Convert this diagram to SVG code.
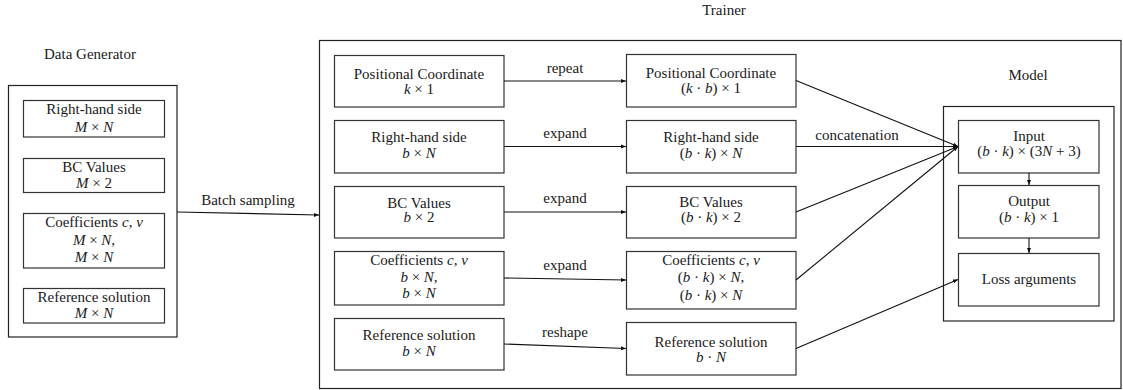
<svg xmlns="http://www.w3.org/2000/svg" width="1123" height="390" viewBox="0 0 1123 390" font-family="'Liberation Serif', 'DejaVu Serif', serif">
  <style>
    text { font-family: 'Liberation Serif', 'DejaVu Serif', serif; font-size: 15px; fill: #1a1a1a; text-anchor: middle; }
    .m { font-style: italic; }
    .box { fill: #ffffff; stroke: #333333; stroke-width: 1.2; }
    .frame { fill: none; stroke: #222222; stroke-width: 1.2; }
    .edge { fill: none; stroke: #111111; stroke-width: 1.1; marker-end: url(#tip); }
  </style>
  <defs>
    <marker id="tip" viewBox="0 0 6 6" refX="6" refY="3" markerWidth="5" markerHeight="5" markerUnits="userSpaceOnUse" orient="auto">
      <path d="M0,0.6 L6,3 L0,5.4 Z" fill="#111111"/>
    </marker>
  </defs>
  <rect width="1123" height="390" fill="#ffffff"/>

  <!-- Data generator -->
  <g id="data-generator">
    <text x="90" y="59">Data Generator</text>
    <rect class="frame" x="8.5" y="85.5" width="168.5" height="251.5"/>
    <g id="dg-rhs">
      <rect class="box" x="23.5" y="100.5" width="141" height="36.5"/>
      <text x="94" y="114">Right-hand side</text>
      <text x="94" y="132"><tspan class="m">M</tspan> × <tspan class="m">N</tspan></text>
    </g>
    <g id="dg-bc">
      <rect class="box" x="23.5" y="158.5" width="141" height="34"/>
      <text x="94" y="172">BC Values</text>
      <text x="94" y="188"><tspan class="m">M</tspan> × 2</text>
    </g>
    <g id="dg-coef">
      <rect class="box" x="23.5" y="213.5" width="141" height="54.5"/>
      <text x="94" y="227">Coefficients <tspan class="m">c</tspan>, <tspan class="m">v</tspan></text>
      <text x="94" y="245"><tspan class="m">M</tspan> × <tspan class="m">N</tspan>,</text>
      <text x="94" y="262"><tspan class="m">M</tspan> × <tspan class="m">N</tspan></text>
    </g>
    <g id="dg-ref">
      <rect class="box" x="23.5" y="288.5" width="141" height="34.5"/>
      <text x="94" y="302">Reference solution</text>
      <text x="94" y="318"><tspan class="m">M</tspan> × <tspan class="m">N</tspan></text>
    </g>
  </g>

  <!-- Trainer frame -->
  <g id="trainer">
    <text x="724" y="15">Trainer</text>
    <rect class="frame" x="319.5" y="40.5" width="801.5" height="348"/>
  </g>

  <!-- Trainer: batch inputs -->
  <g id="t-pos">
    <rect class="box" x="334.5" y="55.5" width="169.5" height="51.5"/>
    <text x="419" y="79">Positional Coordinate</text>
    <text x="419" y="94"><tspan class="m">k</tspan> × 1</text>
  </g>
  <g id="t-rhs">
    <rect class="box" x="334.5" y="120.5" width="169.5" height="52.5"/>
    <text x="419" y="142">Right-hand side</text>
    <text x="419" y="158"><tspan class="m">b</tspan> × <tspan class="m">N</tspan></text>
  </g>
  <g id="t-bc">
    <rect class="box" x="334.5" y="186.5" width="169.5" height="51.5"/>
    <text x="419" y="208">BC Values</text>
    <text x="419" y="222"><tspan class="m">b</tspan> × 2</text>
  </g>
  <g id="t-coef">
    <rect class="box" x="334.5" y="251.5" width="169.5" height="53.5"/>
    <text x="419" y="265">Coefficients <tspan class="m">c</tspan>, <tspan class="m">v</tspan></text>
    <text x="419" y="282"><tspan class="m">b</tspan> × <tspan class="m">N</tspan>,</text>
    <text x="419" y="298"><tspan class="m">b</tspan> × <tspan class="m">N</tspan></text>
  </g>
  <g id="t-ref">
    <rect class="box" x="334.5" y="318.5" width="169.5" height="51.5"/>
    <text x="419" y="340">Reference solution</text>
    <text x="419" y="356"><tspan class="m">b</tspan> × <tspan class="m">N</tspan></text>
  </g>

  <!-- Trainer: reshaped tensors -->
  <g id="r-pos">
    <rect class="box" x="626.5" y="54.5" width="169.5" height="52.5"/>
    <text x="711" y="78">Positional Coordinate</text>
    <text x="711" y="93">(<tspan class="m">k</tspan> · <tspan class="m">b</tspan>) × 1</text>
  </g>
  <g id="r-rhs">
    <rect class="box" x="626.5" y="120.5" width="169.5" height="52.5"/>
    <text x="711" y="142">Right-hand side</text>
    <text x="711" y="158">(<tspan class="m">b</tspan> · <tspan class="m">k</tspan>) × <tspan class="m">N</tspan></text>
  </g>
  <g id="r-bc">
    <rect class="box" x="626.5" y="186.5" width="169.5" height="51.5"/>
    <text x="711" y="207">BC Values</text>
    <text x="711" y="222">(<tspan class="m">b</tspan> · <tspan class="m">k</tspan>) × 2</text>
  </g>
  <g id="r-coef">
    <rect class="box" x="626.5" y="251.5" width="169.5" height="57.5"/>
    <text x="711" y="265">Coefficients <tspan class="m">c</tspan>, <tspan class="m">v</tspan></text>
    <text x="711" y="282">(<tspan class="m">b</tspan> · <tspan class="m">k</tspan>) × <tspan class="m">N</tspan>,</text>
    <text x="711" y="300">(<tspan class="m">b</tspan> · <tspan class="m">k</tspan>) × <tspan class="m">N</tspan></text>
  </g>
  <g id="r-ref">
    <rect class="box" x="626.5" y="322.5" width="169.5" height="52.5"/>
    <text x="711" y="347">Reference solution</text>
    <text x="711" y="362"><tspan class="m">b</tspan> · <tspan class="m">N</tspan></text>
  </g>

  <!-- Model -->
  <g id="model">
    <text x="1028" y="80">Model</text>
    <rect class="frame" x="943.5" y="106.5" width="170.5" height="214.5"/>
    <g id="m-input">
      <rect class="box" x="958.5" y="120.5" width="140.5" height="52.5"/>
      <text x="1029" y="141">Input</text>
      <text x="1029" y="156">(<tspan class="m">b</tspan> · <tspan class="m">k</tspan>) × (3<tspan class="m">N</tspan> + 3)</text>
    </g>
    <g id="m-output">
      <rect class="box" x="958.5" y="185.5" width="140.5" height="52.5"/>
      <text x="1029" y="206">Output</text>
      <text x="1029" y="222">(<tspan class="m">b</tspan> · <tspan class="m">k</tspan>) × 1</text>
    </g>
    <g id="m-loss">
      <rect class="box" x="958.5" y="253.5" width="140.5" height="52.5"/>
      <text x="1029" y="284">Loss arguments</text>
    </g>
  </g>

  <!-- Connectors -->
  <g id="connectors">
    <path class="edge" d="M177,212 L319,215"/>
    <path class="edge" d="M504,81 L626,81"/>
    <path class="edge" d="M504,146.5 L626,146.5"/>
    <path class="edge" d="M504,212 L626,212"/>
    <path class="edge" d="M504,278 L626,280"/>
    <path class="edge" d="M504,344 L626,348.5"/>
    <path class="edge" d="M796,80.5 L958,146.5"/>
    <path class="edge" d="M796,146.5 L958,146.5"/>
    <path class="edge" d="M796,212 L958,146.5"/>
    <path class="edge" d="M796,280 L958,146.5"/>
    <path class="edge" d="M796,348.5 L958,279.5"/>
    <path class="edge" d="M1029,173 L1029,185"/>
    <path class="edge" d="M1029,238 L1029,253"/>
  </g>

  <!-- Connector labels -->
  <g id="edge-labels">
    <text x="248" y="205">Batch sampling</text>
    <text x="565" y="73">repeat</text>
    <text x="565" y="138">expand</text>
    <text x="565" y="203">expand</text>
    <text x="565" y="270">expand</text>
    <text x="565" y="337">reshape</text>
    <text x="857" y="140">concatenation</text>
  </g>
</svg>
